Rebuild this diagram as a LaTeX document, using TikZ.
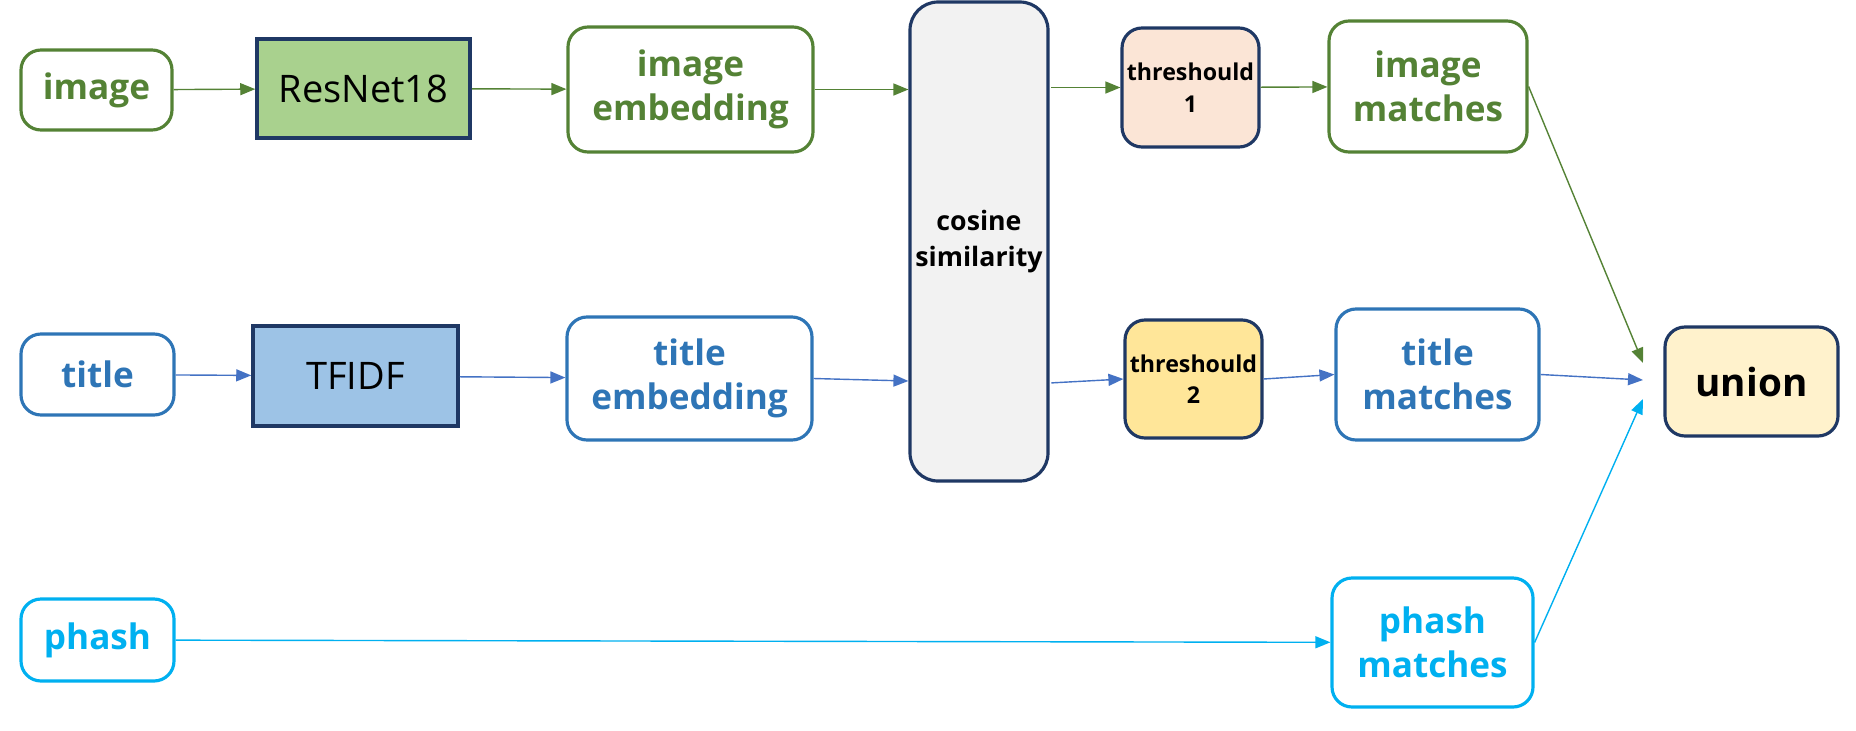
\documentclass[tikz,border=0pt]{standalone}
\usepackage{fontspec}
\setmainfont{Open Sans}
\usetikzlibrary{arrows.meta}

\definecolor{imggreen}{HTML}{548235}
\definecolor{resfill}{HTML}{A9D18E}
\definecolor{titleblue}{HTML}{2E75B6}
\definecolor{tffill}{HTML}{9DC3E6}
\definecolor{arrowblue}{HTML}{4472C4}
\definecolor{phashcyan}{HTML}{00B0F0}
\definecolor{navy}{HTML}{1F3864}
\definecolor{cosfill}{HTML}{F2F2F2}
\definecolor{thrafill}{HTML}{FBE5D6}
\definecolor{thrbfill}{HTML}{FFE699}
\definecolor{unionfill}{HTML}{FFF2CC}

\tikzset{
    databox/.style={draw, rounded corners=0.2cm, line width=0.9pt, fill=white,
        align=center, inner sep=0pt,
        font={\fontsize{10}{12.5}\selectfont\bfseries}},
    modelbox/.style={draw=navy, line width=1pt, inner sep=0pt,
        font={\fontsize{10.8}{12.5}\selectfont}},
    stepbox/.style={draw=navy, rounded corners=0.2cm, line width=0.9pt,
        align=center, inner sep=0pt,
        font={\fontsize{6.6}{9}\selectfont\bfseries}},
    flow/.style={-{Triangle[length=0.15cm,width=0.12cm]}, line width=0.4pt}
}

\begin{document}
\begin{tikzpicture}
        \useasboundingbox (0,0) rectangle (18.56,-7.30);

        % image branch
        \node[databox, draw=imggreen, text=imggreen, minimum width=1.51cm, minimum height=0.80cm] (image) at (0.965,-0.90) {image};
        \node[modelbox, fill=resfill, minimum width=2.13cm, minimum height=0.99cm] (ResNet) at (3.635,-0.885) {ResNet18};
        \node[databox, draw=imggreen, text=imggreen, minimum width=2.45cm, minimum height=1.25cm] (ImgEmb) at (6.905,-0.895) {image\\embedding};

        % title branch
        \node[databox, draw=titleblue, text=titleblue, minimum width=1.53cm, minimum height=0.81cm] (title) at (0.975,-3.745) {title};
        \node[modelbox, fill=tffill, minimum width=2.05cm, minimum height=1.00cm] (TFIDF) at (3.555,-3.76) {TFIDF};
        \node[databox, draw=titleblue, text=titleblue, minimum width=2.45cm, minimum height=1.23cm] (TitleEmb) at (6.895,-3.785) {title\\embedding};

        % phash branch
        \node[databox, draw=phashcyan, text=phashcyan, minimum width=1.53cm, minimum height=0.82cm] (phash) at (0.975,-6.40) {phash};

        \node[stepbox, rounded corners=0.28cm, fill=cosfill, minimum width=1.38cm, minimum height=4.79cm,
            font={\fontsize{7.6}{10.4}\selectfont\bfseries}] (Cosine) at (9.79,-2.415) {cosine\\similarity};

        \node[stepbox, fill=thrafill, minimum width=1.37cm, minimum height=1.19cm] (Thr1) at (11.905,-0.875) {threshould\\1};
        \node[stepbox, fill=thrbfill, minimum width=1.37cm, minimum height=1.18cm] (Thr2) at (11.935,-3.79) {threshould\\2};

        \node[databox, draw=imggreen, text=imggreen, minimum width=1.98cm, minimum height=1.31cm] (ImgMatch) at (14.28,-0.865) {image\\matches};
        \node[databox, draw=titleblue, text=titleblue, minimum width=2.03cm, minimum height=1.31cm] (TitleMatch) at (14.375,-3.745) {title\\matches};
        \node[databox, draw=phashcyan, text=phashcyan, minimum width=2.01cm, minimum height=1.29cm] (PhashMatch) at (14.325,-6.425) {phash\\matches};

        \node[stepbox, fill=unionfill, minimum width=1.73cm, minimum height=1.09cm,
            font={\fontsize{11}{13}\selectfont\bfseries}] (Union) at (17.515,-3.815) {union};

        \coordinate (UnionA) at (16.43,-3.63);
        \coordinate (UnionB) at (16.43,-3.80);
        \coordinate (UnionC) at (16.43,-3.99);

        \draw[flow, imggreen] (image) -- (ResNet);
        \draw[flow, imggreen] (ResNet) -- (ImgEmb);
        \draw[flow, imggreen] (ImgEmb.east) -- (ImgEmb.east -| Cosine.west);
        \draw[flow, imggreen, shorten <=0.5pt] (Thr1.west -| Cosine.east) -- (Thr1.west);
        \draw[flow, imggreen] (Thr1) -- (ImgMatch);
        \draw[flow, imggreen] (ImgMatch.east) -- (UnionA);

        \draw[flow, arrowblue] (title) -- (TFIDF);
        \draw[flow, arrowblue] (TFIDF) -- (TitleEmb);
        \draw[flow, arrowblue] (TitleEmb.east) -- (Cosine.west |- 0,-3.81);
        \draw[flow, arrowblue, shorten <=0.5pt] (Cosine.east |- 0,-3.83) -- (Thr2.west);
        \draw[flow, arrowblue] (Thr2.east) -- (TitleMatch.west);
        \draw[flow, arrowblue] (TitleMatch.east) -- (UnionB);

        \draw[flow, phashcyan] (phash) -- (PhashMatch);
        \draw[flow, phashcyan] (PhashMatch.east) -- (UnionC);
    \end{tikzpicture}
\end{document}
